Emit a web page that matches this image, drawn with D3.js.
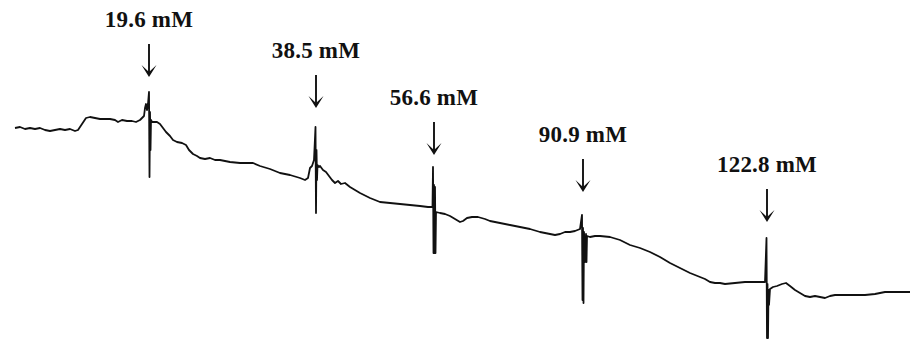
<!DOCTYPE html>
<html>
<head>
<meta charset="utf-8">
<script src="https://cdn.jsdelivr.net/npm/d3@7"></script>
<style>
  html, body { margin: 0; padding: 0; background: #fff; }
  svg { display: block; }
</style>
</head>
<body>
<svg id="chart" width="911" height="341"></svg>
<script>
// ---- Data (time in s, signal in arbitrary units) ----
const traceTime = [
  15,20,25,30,35,40,45,50,55,60,65,70,75,78,82,86,90,95,100,110,115,118,122,127,132,136,140,
  144,145,146,147,148,149,149.5,150,150.5,151,152,157,160,163,166,170,173,177,182,186,189,193,197,
  200,205,210,215,220,225,230,240,253,260,270,280,290,300,305,308,310,312,314,315.5,316,316.5,317,317.5,
  319,320,323,326,329,332,335,338,341,345,350,355,360,370,380,390,400,410,420,428,
  432.5,433,433.5,434,434.5,435,435.5,436,440,445,450,455,460,463,467,472,478,485,490,500,510,520,530,
  540,545,550,555,560,565,570,575,580,582,582.5,583,583.5,584,585,586,586.5,587,590,595,600,610,620,630,
  640,650,660,670,680,690,700,705,710,715,720,725,735,745,755,765,766.5,767,767.5,768,768.5,769,770,
  773,777,782,786,790,795,800,805,810,815,820,825,830,835,845,855,865,875,880,885,890,900,910
];
const traceSignal = [
  213,214,212,213,212,213,211,210,211,212,211,212,210,211,217,223,224,223,222,222,221,219,221,220,220,219,221,
  225,233,237,231,237,249,164,229,191,221,219,219,217,213,209,205,201,199,198,196,191,187,185,
  183,182,183,181,181,180,179,178,178,175,172,168,166,163,161,163,173,175,181,214,128,191,161,176,
  174,175,171,169,165,161,158,160,157,158,154,151,148,143,139,138,137,136,135,134,
  134,174,88,156,88,154,88,129,128,127,125,122,119,120,123,124,124,122,120,118,116,114,112,
  109,108,107,106,107,109,109,110,112,126,41,113,38,109,79,107,79,105,104,105,105,104,101,96,
  93,89,84,78,73,68,64,62,59,58,58,57,58,59,59,59,103,3,57,3,51,36,52,
  54,55,57,58,55,51,48,45,44,45,44,43,45,46,46,46,46,47,48,49,49,49,49
];

// Injections: time of addition, concentration label, signal level where the arrow points
const injectTime = [149, 316, 434, 583, 767];
const injectLabel = ["19.6 mM", "38.5 mM", "56.6 mM", "90.9 mM", "122.8 mM"];
const arrowLevel = [264, 233, 186, 149, 119];

// ---- Drawing ----
const W = 911, H = 341;
const svg = d3.select("#chart");
const x = d3.scaleLinear().domain([0, 911]).range([0, W]);
const y = d3.scaleLinear().domain([0, 341]).range([H, 0]);

const pts = traceTime.map((t, i) => [t, traceSignal[i]]);
const line = d3.line().x(d => x(d[0])).y(d => y(d[1]));

svg.append("path")
  .datum(pts)
  .attr("d", line)
  .attr("fill", "none")
  .attr("stroke", "#111")
  .attr("stroke-width", 1.8)
  .attr("stroke-linejoin", "round");

const g = svg.append("g").selectAll("g")
  .data(injectTime.map((t, i) => ({ t, label: injectLabel[i], level: arrowLevel[i] })))
  .join("g");

const arrowLen = 33, headH = 12, headW = 7.5;

g.append("line")
  .attr("x1", d => x(d.t)).attr("x2", d => x(d.t))
  .attr("y1", d => y(d.level) - arrowLen)
  .attr("y2", d => y(d.level) - 4)
  .attr("stroke", "#111").attr("stroke-width", 1.9);

g.append("path")
  .attr("d", d => {
    const cx = x(d.t), ty = y(d.level);
    return `M${cx - headW},${ty - headH} L${cx},${ty} L${cx + headW},${ty - headH} L${cx},${ty - 5} Z`;
  })
  .attr("fill", "#111");

g.append("text")
  .attr("x", d => x(d.t))
  .attr("y", d => y(d.level) - arrowLen - 17)
  .attr("text-anchor", "middle")
  .attr("font-family", "'Liberation Serif', 'DejaVu Serif', serif")
  .attr("font-weight", "bold")
  .attr("font-size", 23)
  .attr("letter-spacing", 0.2)
  .attr("fill", "#111")
  .text(d => d.label);
</script>
</body>
</html>
